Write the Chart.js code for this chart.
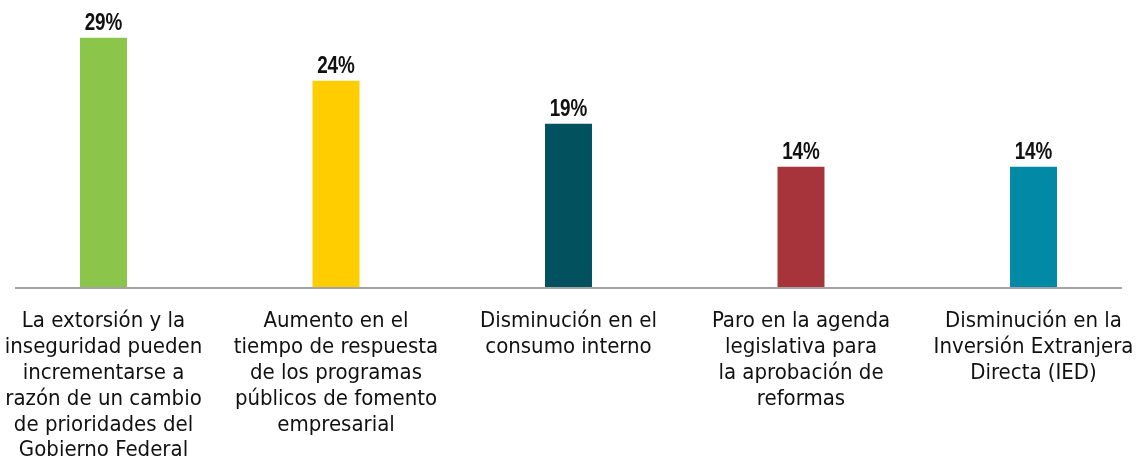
<!DOCTYPE html>
<html>
<head>
<meta charset="utf-8">
<script src="https://cdn.jsdelivr.net/npm/chart.js@4/dist/chart.umd.min.js"></script>
<style>
  html, body { margin: 0; padding: 0; background: #fff; }
  #wrap { width: 1137px; height: 466px; }
</style>
</head>
<body>
<div id="wrap"><canvas id="grafico"></canvas></div>
<script>
/* datos */
const categorias = [
    ["La extorsión y la", "inseguridad pueden", "incrementarse a", "razón de un cambio", "de prioridades del", "Gobierno Federal"],
    ["Aumento en el", "tiempo de respuesta", "de los programas", "públicos de fomento", "empresarial"],
    ["Disminución en el", "consumo interno"],
    ["Paro en la agenda", "legislativa para", "la aprobación de", "reformas"],
    ["Disminución en la", "Inversión Extranjera", "Directa (IED)"]
];
const valores = [29, 24, 19, 14, 14];
const colores = ["#8bc54a", "#ffcd00", "#01525e", "#a7343a", "#0189a6"];

/* etiquetas de valor sobre las barras (condensadas a mano) */
const etiquetasValor = {
    id: "etiquetasValor",
    afterDatasetsDraw(chart) {
        const ctx = chart.ctx;
        const meta = chart.getDatasetMeta(0);
        meta.data.forEach((bar, i) => {
            ctx.save();
            ctx.translate(bar.x, bar.y - 8);
            ctx.scale(0.82, 1);
            ctx.font = "bold 23px 'Liberation Sans', Arial, sans-serif";
            ctx.fillStyle = "#111";
            ctx.textAlign = "center";
            ctx.textBaseline = "alphabetic";
            ctx.fillText(valores[i] + "%", 0, 0);
            ctx.restore();
        });
    }
};

/* linea base gris */
const lineaBase = {
    id: "lineaBase",
    beforeDatasetsDraw(chart) {
        const ctx = chart.ctx;
        const y = chart.scales.y.getPixelForValue(0);
        ctx.save();
        ctx.strokeStyle = "#a3a3a3";
        ctx.lineWidth = 2;
        ctx.beginPath();
        ctx.moveTo(15, y + 1);
        ctx.lineTo(1122, y + 1);
        ctx.stroke();
        ctx.restore();
    }
};

new Chart(document.querySelector("#grafico"), {
    type: "bar",
    data: {
        labels: categorias,
        datasets: [{
            data: valores,
            backgroundColor: colores,
            barPercentage: 0.202,
            categoryPercentage: 1,
            clip: false
        }]
    },
    options: {
        responsive: true,
        maintainAspectRatio: false,
        animation: false,
        layout: { padding: { top: 12, left: 103.5, right: 103.5, bottom: 0 } },
        plugins: { legend: { display: false }, tooltip: { enabled: false } },
        scales: {
            x: {
                offset: false,
                grid: { display: false, drawTicks: false },
                border: { display: false },
                afterFit(scale) {
                    scale.height = 179;
                    scale.paddingLeft = 0;
                    scale.paddingRight = 0;
                },
                ticks: {
                    padding: 21,
                    color: "#111",
                    maxRotation: 0,
                    autoSkip: false,
                    font: { family: "'DejaVu Sans Condensed', 'DejaVu Sans', sans-serif", size: 22, lineHeight: 1.18 }
                }
            },
            y: {
                display: false,
                min: 0,
                max: 32
            }
        }
    },
    plugins: [lineaBase, etiquetasValor]
});
</script>
</body>
</html>
